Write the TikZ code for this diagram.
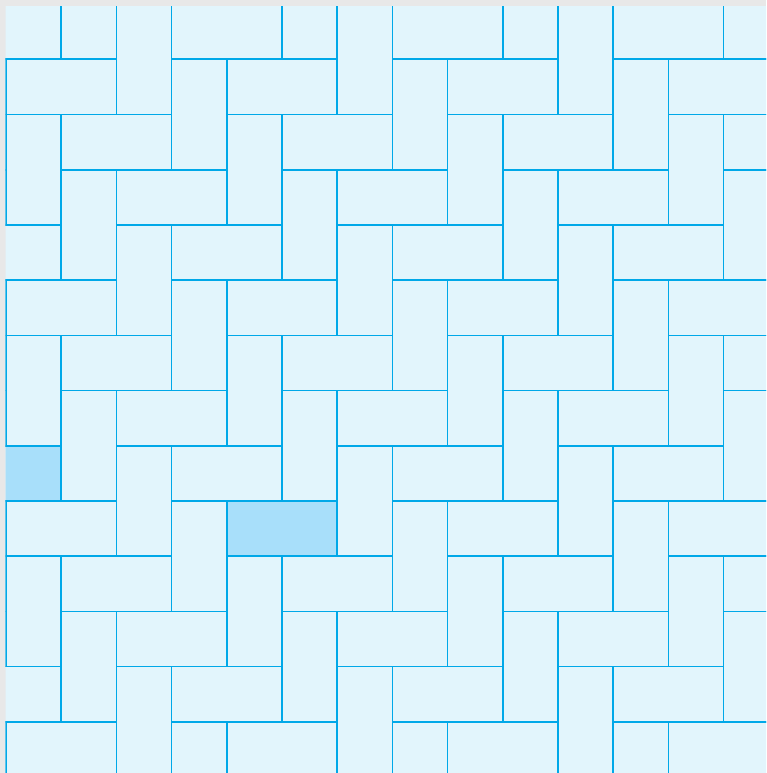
\documentclass[tikz,border=0pt]{standalone}
\usepackage{xcolor}
\usepackage{tikz}
\definecolor{tileline}{RGB}{0,168,232}
\definecolor{tilefill}{RGB}{226,245,252}
\definecolor{tilemark}{RGB}{168,223,250}
\definecolor{pagegray}{RGB}{232,232,232}

\begin{document}
\begin{tikzpicture}[x=1pt, y=-1pt, brickfill/.style={fill=tilefill}, brick/.style={draw=tileline, line width=1.6pt}, marked/.style={fill=tilemark}]
\fill[pagegray] (0,0) rectangle (766,773);
\useasboundingbox (0,0) rectangle (766,773);
\begin{scope}
\clip (5.5,6.7) rectangle (766,773);
\begin{scope}[shift={(6,4.1)}, x=55.2pt, y=-55.2pt]
\fill[tilefill] (-1,-1) rectangle (15,15);
\fill[marked] (-1,8) rectangle ++(2,1);
\fill[marked] (4,9) rectangle ++(2,1);
% herringbone: lying bricks and standing bricks, shifted one cell per row
\foreach \r in {-2,...,14}
  \foreach \k in {-5,...,4} {
    \draw[brick] ({\r+3+4*\k},\r) rectangle ++(2,1);
    \draw[brick] ({\r+2+4*\k},\r) rectangle ++(1,2);
  }
\end{scope}
\end{scope}
\end{tikzpicture}
\end{document}
